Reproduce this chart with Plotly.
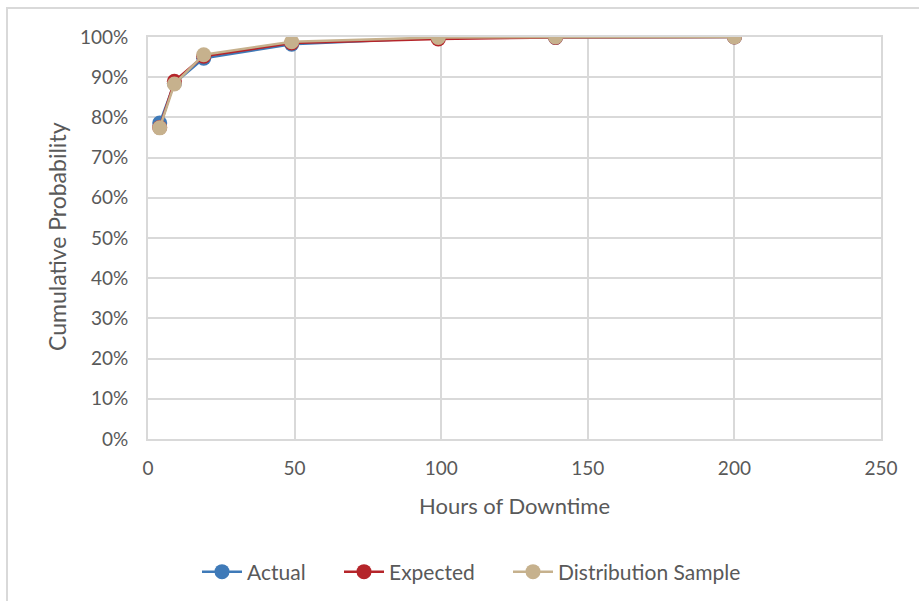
import plotly.graph_objects as go

# Hours of downtime at which the cumulative probability is evaluated
hours = [4, 9, 19, 49, 99, 139, 200]

# Cumulative probability (fraction) for each series
actual = [0.786, 0.885, 0.947, 0.982, 0.998, 0.999, 1.000]
expected = [0.775, 0.890, 0.952, 0.985, 0.995, 0.999, 1.000]
dist_sample = [0.774, 0.883, 0.956, 0.988, 0.999, 1.000, 1.000]

series = [
    ("Actual", actual, "#3F7AB8"),
    ("Expected", expected, "#B5252A"),
    ("Distribution Sample", dist_sample, "#C6B18D"),
]

FONT = "Lato, 'Open Sans', sans-serif"
GRAY = "#595959"
GRID = "#D9D9D9"

# plot-area geometry in pixels
W, H = 919, 601
L, R, T, B = 148, 881, 37, 439
pw, ph = R - L, B - T

# one legend per series so each entry sits at its own horizontal spot
legend_ids = ["legend", "legend2", "legend3"]
legend_px = [197, 339, 508]

fig = go.Figure()
for (name, vals, color), lid in zip(series, legend_ids):
    fig.add_trace(go.Scatter(
        x=hours, y=vals, name=name, mode="lines+markers",
        line=dict(color=color, width=2.5),
        marker=dict(color=color, size=15),
        legend=lid,
    ))

legend_layout = {}
for lid, px in zip(legend_ids, legend_px):
    legend_layout[lid] = dict(
        orientation="h", xref="container", yref="container",
        x=px / W, xanchor="left",
        y=1 - 572 / H, yanchor="middle",
        font=dict(size=21, color=GRAY), itemwidth=40,
        bgcolor="rgba(0,0,0,0)",
    )

fig.update_layout(
    width=W, height=H,
    margin=dict(l=L, r=W - R, t=T, b=H - B, pad=0),
    paper_bgcolor="white", plot_bgcolor="white",
    font=dict(family=FONT, color=GRAY, size=18),
    showlegend=True,
    **legend_layout,
    xaxis=dict(
        range=[0, 250], tickvals=[0, 50, 100, 150, 200, 250],
        showgrid=True, gridcolor=GRID, gridwidth=2,
        zeroline=False, showline=True, linecolor=GRID, linewidth=2,
        mirror=True, ticks="", ticklabelstandoff=11,
        tickfont=dict(size=19, color=GRAY), fixedrange=True,
    ),
    yaxis=dict(
        range=[0, 1], tickvals=[i / 10 for i in range(11)],
        tickformat=".0%",
        showgrid=True, gridcolor=GRID, gridwidth=2,
        zeroline=False, showline=True, linecolor=GRID, linewidth=2,
        mirror=True, ticks="", ticklabelstandoff=14,
        tickfont=dict(size=19, color=GRAY), fixedrange=True,
    ),
    annotations=[
        dict(text="Hours of Downtime", xref="paper", yref="paper",
             x=(514 - L) / pw, y=(B - 505) / ph, xanchor="center", yanchor="middle",
             showarrow=False, font=dict(size=22, color=GRAY)),
        dict(text="Cumulative Probability", xref="paper", yref="paper",
             x=(57 - L) / pw, y=(B - 237) / ph, xanchor="center", yanchor="middle",
             textangle=-90, showarrow=False, font=dict(size=23, color=GRAY)),
    ],
    shapes=[
        # chart-area border
        dict(type="rect", xref="paper", yref="paper",
             x0=(7 - L) / pw, x1=(W + 20 - L) / pw,
             y0=(B - (H + 20)) / ph, y1=(B - 8) / ph,
             line=dict(color=GRID, width=2), fillcolor="rgba(0,0,0,0)", layer="below"),
    ],
)

fig.write_html("out.html")
